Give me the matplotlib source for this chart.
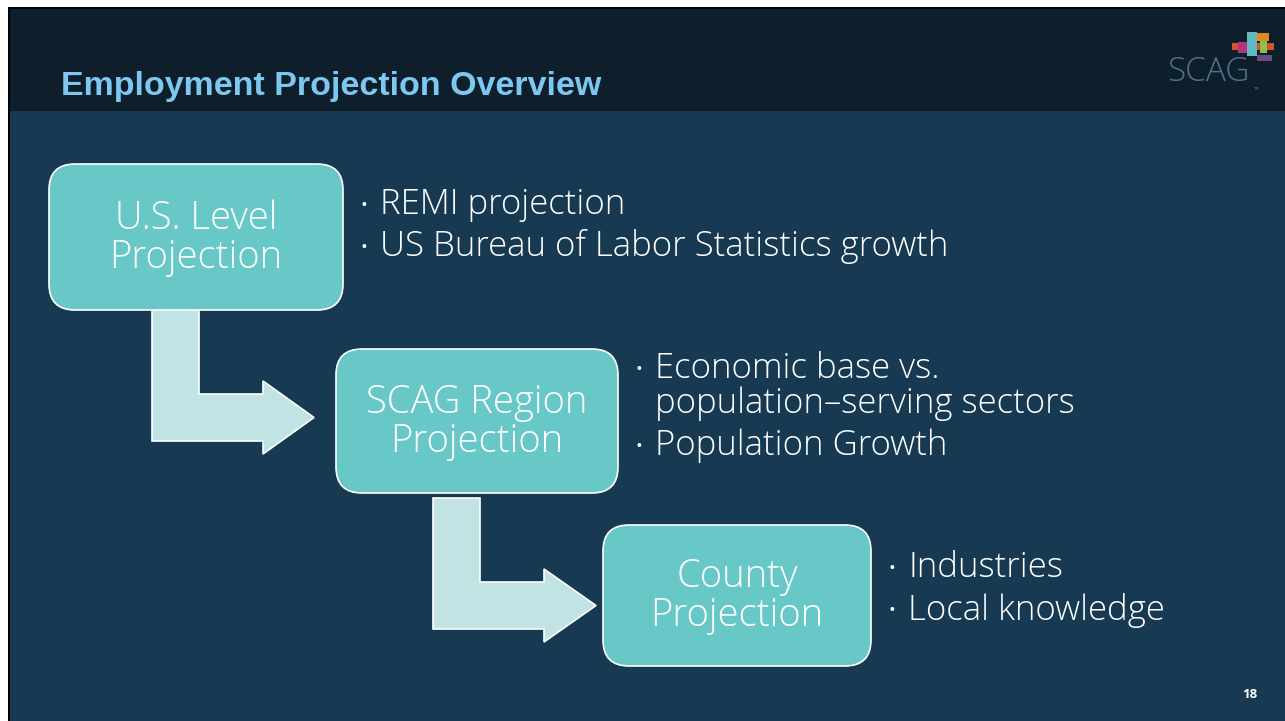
import matplotlib
matplotlib.use('Agg')
from matplotlib import pyplot as plt
from matplotlib.patches import FancyBboxPatch, Polygon, Rectangle

# slide content
title = "Employment Projection Overview"
box_labels = ["U.S. Level\nProjection", "SCAG Region\nProjection", "County\nProjection"]
bullets = [
    [["REMI projection"], ["US Bureau of Labor Statistics growth"]],
    [["Economic base vs.", "population\u2013serving sectors"], ["Population Growth"]],
    [["Industries"], ["Local knowledge"]],
]
page_no = "18"

# colours
band_col = '#0e1e2a'
body_col = '#173a52'
box_col = '#68c8c7'
arrow_col = '#c2e3e4'
title_col = '#7cc8f0'

fig = plt.figure(figsize=(12.85, 7.21), dpi=100)
fig.patch.set_facecolor('white')
ax = fig.add_axes([0, 0, 1, 1])
ax.set_xlim(0, 1285)
ax.set_ylim(721, 0)
ax.axis('off')

# slide background, top band and frame
ax.add_patch(Rectangle((8, 7), 1290, 720, facecolor='black', edgecolor='none', zorder=0))
ax.add_patch(Rectangle((10, 9), 1290, 720, facecolor=body_col, edgecolor='none', zorder=0))
ax.add_patch(Rectangle((10, 9), 1290, 102, facecolor=band_col, edgecolor='none', zorder=0))

ax.text(61, 86, title, color=title_col, fontsize=24.5, fontweight='bold',
        family='Liberation Sans', va='center', ha='left')

# logo
ax.text(1208, 72, "SCAG", color='#4e7487', fontsize=24, family='Open Sans',
        fontweight='light', ha='center', va='center')
ax.text(1256, 89, "TM", color='#4e7487', fontsize=3, ha='center', va='center')
logo_blocks = [
    ((1257, 33), 12, 8, '#e08a22'),
    ((1232, 43), 42, 7, '#d5542b'),
    ((1238, 42), 9, 11, '#b4347e'),
    ((1247, 32), 10, 24, '#5fb8c2'),
    ((1260, 41), 7, 12, '#8bc34a'),
    ((1257, 55), 15, 6, '#6c4a80'),
]
for xy, w, h, c in logo_blocks:
    ax.add_patch(Rectangle(xy, w, h, facecolor=c, edgecolor='none', zorder=2))

ax.text(1250, 694, page_no, color='white', fontsize=9.5, fontweight='bold',
        family='Open Sans', ha='center', va='center')

# boxes: left, top, right, bottom
boxes = [(49, 164, 343, 310), (336, 349, 618, 493), (603, 525, 871, 666)]
list_top = [205, 369, 568]
# bent arrows: x_left, x_right, y_top, bar_top, bar_bottom, head_x, head_top, head_bottom, tip_x
arrows = [(152, 199, 310, 394, 441, 263, 381, 454, 314),
          (433, 480, 498, 582, 629, 544, 569, 642, 596)]

for xl, xr, yt, bt, bb, hx, ht, hb, tip in arrows:
    pts = [(xl, yt), (xr, yt), (xr, bt), (hx, bt), (hx, ht), (tip, (bt + bb) / 2),
           (hx, hb), (hx, bb), (xl, bb)]
    ax.add_patch(Polygon(pts, closed=True, facecolor=arrow_col, edgecolor='white',
                         linewidth=1.2, zorder=2))

for (l, t, r, b), label, items, y in zip(boxes, box_labels, bullets, list_top):
    ax.add_patch(FancyBboxPatch((l, t), r - l, b - t,
                                boxstyle="round,pad=0,rounding_size=26",
                                facecolor=box_col, edgecolor='white', linewidth=1.2, zorder=3))
    ax.text((l + r) / 2, (t + b) / 2 + 1, label, color='white', fontsize=27.5,
            family='Open Sans', fontweight='light', ha='center', va='center',
            linespacing=1.03, zorder=4)

    # bullet list next to the box
    for item in items:
        ax.text(r + 21, y + 1, "\u2022", color='white', fontsize=13, family='Open Sans',
                ha='center', va='center')
        for line in item:
            ax.text(r + 37, y, line, color='white', fontsize=25, family='Open Sans',
                    fontweight='light', ha='left', va='center')
            y += 35
        y += 7

fig.savefig('out.png', dpi=100, facecolor=fig.get_facecolor())
